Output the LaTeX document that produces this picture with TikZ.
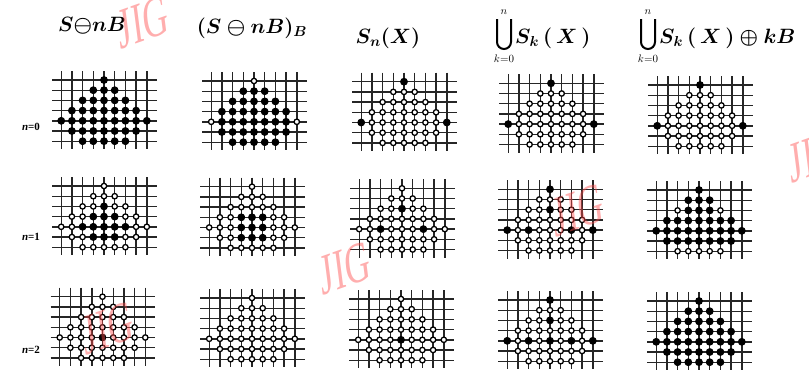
\documentclass[tikz,border=0pt]{standalone}
\usepackage{fontspec}
\setmainfont{Liberation Serif}
\usetikzlibrary{calc}
\newcommand\gdx{10.7}
\newcommand\gdy{10.2}
\tikzset{
  gridline/.style={line width=1.4pt, black!85},
  opendot/.style={draw=black, line width=1.3pt, fill=white},
  filldot/.style={fill=black},
  header/.style={inner sep=0pt, font=\fontsize{20}{22}\selectfont\boldmath},
  limit/.style={inner sep=0pt, font=\fontsize{11}{12}\selectfont},
  bigU/.style={line width=2pt, black},
  rowlab/.style={inner sep=0pt, font=\fontsize{11}{12}\selectfont\bfseries},
  wmark/.style={inner sep=0pt, text=red!70!white, opacity=0.45, xscale=0.6, rotate=12,
                font=\fontsize{58}{60}\selectfont}
}
% #1 centre x, #2 top y
\newcommand\panelgrid[2]{%
  \foreach \r in {0,...,6}{
    \draw[gridline] ({#1-4*\gdx-9},{#2+\r*\gdy}) -- ({#1+4*\gdx+10},{#2+\r*\gdy});
  }
  \foreach \c in {0,...,8}{
    \draw[gridline] ({#1+(\c-4)*\gdx},{#2-9}) -- ({#1+(\c-4)*\gdx},{#2+6*\gdy+8});
  }
  \foreach \r in {0,...,6}{
    \pgfmathtruncatemacro\plo{abs(\r-4)}
    \pgfmathtruncatemacro\phi{8-\plo}
    \foreach \c in {\plo,...,\phi}{
      \draw[opendot] ({#1+(\c-4)*\gdx},{#2+\r*\gdy}) circle (2.7pt);
    }
  }
}
% #3 list of row/from/to of filled dots
\newcommand\panelfill[3]{%
  \foreach \r/\a/\b in {#3}{
    \foreach \c in {\a,...,\b}{
      \fill[filldot] ({#1+(\c-4)*\gdx},{#2+\r*\gdy}) circle (3.9pt);
    }
  }
}
% big union sign centred at x = #1
\newcommand\bigunion[1]{%
  \draw[bigU] ({#1-7},19) -- ({#1-7},42) arc[start angle=180, end angle=360, x radius=7pt, y radius=7pt] -- ({#1+7},19);
}
\begin{document}
\begin{tikzpicture}[x=1pt,y=-1pt]
\useasboundingbox (0,0) rectangle (809,370);
\clip (0,0) rectangle (809,370);
\fill[white] (0,0) rectangle (809,370);

% headers
\node[header] (h1) at (92,26) {$S{\ominus}nB$};
\node[header] (h2) at (252,28) {$(S\ominus nB)_B$};
\node[header] (h3) at (388,38) {$S_n(X)$};
\bigunion{504}
\node[limit] (n4) at (504,12) {$n$};
\node[limit] (k4) at (504,59) {$k{=}0$};
\node[header, anchor=west] (h4) at (515,38) {$S_k\,(\,X\,)$};
\bigunion{648}
\node[limit] (n5) at (648,12) {$n$};
\node[limit] (k5) at (648,59) {$k{=}0$};
\node[header, anchor=west] (h5) at (659,38) {$S_k\,(\,X\,)\oplus kB$};

% row labels
\node[rowlab] (l0) at (31,127) {\textit{n}=0};
\node[rowlab] (l1) at (31,237) {\textit{n}=1};
\node[rowlab] (l2) at (31,350) {\textit{n}=2};

% n = 0
\panelgrid{104}{80}
\panelfill{104}{80}{0/4/4,1/3/5,2/2/6,3/1/7,4/0/8,5/1/7,6/2/6}
\panelgrid{254}{81}
\panelfill{254}{81}{1/3/5,2/2/6,3/1/7,4/1/7,5/1/7,6/2/6}
\panelgrid{404}{81.7}
\panelfill{404}{81.7}{0/4/4,4/0/0,4/8/8}
\panelgrid{551}{83.3}
\panelfill{551}{83.3}{0/4/4,4/0/0,4/8/8}
\panelgrid{700}{85}
\panelfill{700}{85}{0/4/4,4/0/0,4/8/8}

% n = 1
\panelgrid{104}{186}
\panelfill{104}{186}{2/4/4,3/3/5,4/2/6,5/3/5}
\panelgrid{252}{186.7}
\panelfill{252}{186.7}{3/3/5,4/3/5,5/3/5}
\panelgrid{402}{188.3}
\panelfill{402}{188.3}{2/4/4,4/2/2,4/6/6}
\panelgrid{550}{189.3}
\panelfill{550}{189.3}{0/4/4,2/4/4,4/0/0,4/2/2,4/6/6,4/8/8}
\panelgrid{699}{190}
\panelfill{699}{190}{0/4/4,1/3/5,2/3/5,3/1/7,4/0/8,5/1/7}

% n = 2
\panelgrid{102.5}{296.7}
\panelfill{102.5}{296.7}{4/4/4}
\panelgrid{252}{298}
\panelgrid{401}{299}
\panelfill{401}{299}{4/4/4}
\panelgrid{550}{300}
\panelfill{550}{300}{0/4/4,2/4/4,4/0/0,4/2/2,4/4/4,4/6/6,4/8/8}
\panelgrid{699}{301}
\panelfill{699}{301}{0/4/4,1/3/5,2/2/6,3/1/7,4/0/8,5/1/7,6/2/6}

% watermarks
\node[wmark] (w1) at (143,22) {JIG};
\node[wmark] (w2) at (345,268) {JIG};
\node[wmark] (w3) at (578,210) {JIG};
\node[wmark] (w4) at (108,328) {JIG};
\node[wmark] (w5) at (814,156) {JIG};
\end{tikzpicture}
\end{document}
